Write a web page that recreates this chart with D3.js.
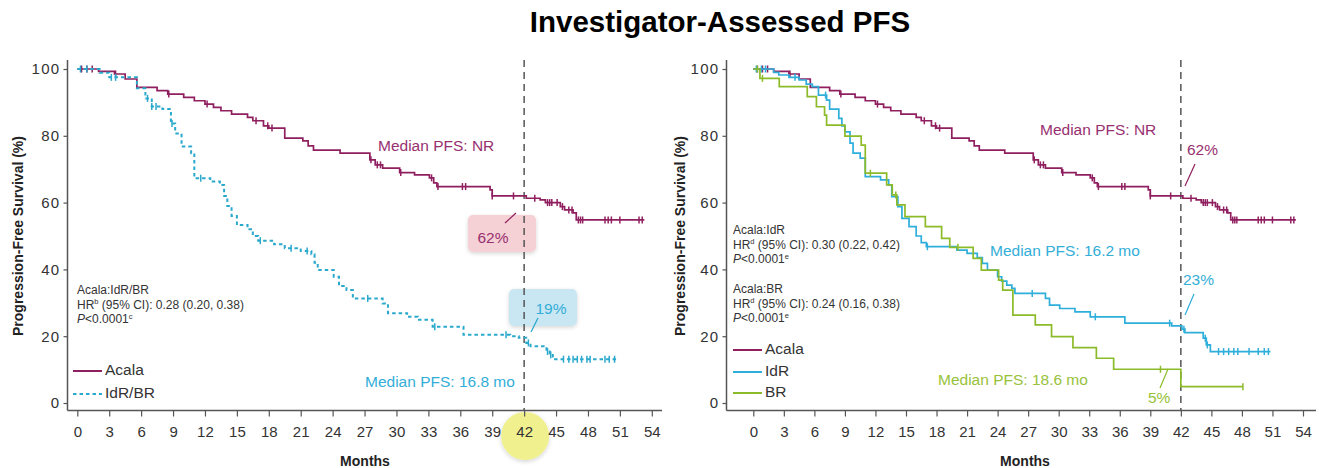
<!DOCTYPE html>
<html><head><meta charset="utf-8">
<script src="https://cdn.jsdelivr.net/npm/d3@7"></script>
<style>
html,body{margin:0;padding:0;background:#fff;}
svg{display:block;font-family:"Liberation Sans",Arial,Helvetica,sans-serif;}
</style></head>
<body><svg id="chart" width="1319" height="468"></svg>
<script>
// ---------------- DATA ----------------
const title = "Investigator-Assessed PFS";
const xTicks = [0,3,6,9,12,15,18,21,24,27,30,33,36,39,42,45,48,51,54];
const yTicks = [0,20,40,60,80,100];
const landmark = 42;

// Acala (both panels)
const acalaT = [0,2.0,3.5,4.5,5.6,7.5,8.5,10,11,12,12.8,13.5,14.5,16,16.5,17.5,18,19.5,21.2,21.7,22.2,24.7,27.5,28,28.7,30.3,31.7,33.1,33.5,33.8,38.8,39,42.2,43.5,44,45.4,45.8,46.6,46.9,53.3];
const acalaS = [100,99.3,98.5,97,94.5,93.5,92.5,91.5,90.5,89.5,88.5,87.5,86.5,85.5,84.5,83,82.3,79.3,78.5,77,75.7,74.8,72.8,71.3,70.3,69,68.3,67.4,65.9,64.8,63.8,62,61.3,60.8,60,58.8,57.8,56.9,54.8,54.8];
const acalaCens = [0.4,0.9,1.4,3.6,8.6,12.2,16.8,17.9,18.3,27.6,28.2,28.5,30.4,33.3,33.9,36.2,36.5,39.0,41.0,43.0,44.2,44.4,44.6,45.1,45.6,46.2,46.5,47.1,47.3,47.5,49.6,49.9,50.2,51.0,52.8,53.1];

// IdR/BR pooled (left panel)
const idrbrT = [0,2.1,3,5.6,6.4,7,8,8.8,9.2,9.8,10.7,11,12.5,13.4,13.8,14.1,14.5,15,16,16.5,17,18.5,19.5,21,22,22.3,22.6,24.1,24.6,25.3,25.9,28.7,29.2,31,32,33.4,36.3,40.7,41.5,42.2,42.6,44.1,44.4,44.7,50.7];
const idrbrS = [100,98.9,97.5,94.2,91.2,88.8,88,83.7,80.7,76.8,74.8,67.3,66.3,65.3,62,59,56,53.3,52,50,48.6,47.5,46.3,45.5,44.5,42,39.8,37.8,35,33.8,31.3,29.8,26.9,25.8,24.9,22.8,20.4,20,19.5,18,17,15.4,14.4,13.1,13.1];
const idrbrCens = [0.3,0.9,3.2,3.6,6.6,7.0,7.4,8.9,11.6,17.2,20.1,21.6,27.3,33.6,40.3,42.4,44.2,44.5,45.7,46.2,46.6,47.0,47.4,47.9,48.2,49.6,50.0,50.5];

// IdR (right panel)
const idrT = [0,2,2.5,3.5,4.5,5.2,5.8,6.4,7.2,7.5,8.4,8.7,9.0,9.5,9.8,10.5,11,12.5,13.3,13.6,14.2,14.6,15.3,16,16.5,17,20,21,22,22.5,23,24,24.4,24.9,25.4,25.7,28.7,29.1,30.1,31.6,33.1,36.5,41.1,42.1,42.4,44.2,44.5,44.9,50.8];
const idrS = [100,99,98.2,97.5,96.7,95.5,94.7,92.2,90.7,88,85.2,83,81.2,77.8,74.8,73.3,67.8,66.8,65.3,61.8,58.8,55.3,52.8,50,48,46.8,45.8,44.8,43.5,41.8,39.8,37.8,36.5,35.3,34.3,32.8,31.3,29.3,28.3,27.3,25.8,23.9,23.1,22.1,21.1,19.4,17.4,15.4,15.4];
const idrCens = [0.3,0.8,1.2,4.1,7.1,17.1,27.4,33.6,40.9,42.3,44.4,44.6,45.7,46.2,46.7,47.2,47.6,48.7,49.6,50.2,50.6];

// BR (right panel)
const brT = [0,0.65,2.55,5.3,6.2,7.0,7.2,9.0,10.6,11,13.1,13.65,14.1,14.9,16.9,18.5,19.3,21.6,22.4,24.1,24.5,25.5,27.7,29.3,31.4,33.7,35.4,42,48.1];
const brS = [100,97.2,94.7,91.7,88.7,86.2,83.2,79.9,77.2,68.8,65.3,62.3,59.3,55.8,52.8,49.3,46.6,43.3,39.8,36.8,33.8,26.3,23.4,19.9,16.6,13.4,10.1,4.9,4.9];
const brCens = [0.4,0.9,11.5,14.0,20.1,40.0,48.1];

// ---------------- STYLE ----------------
const C = {
  acala:"#8f1f5f", acalaText:"#973070",
  idrbr:"#2aa9cc", idr:"#2eaedb", idrText:"#33aed8",
  br:"#8cbb2a", brText:"#97c23a",
  axis:"#555", text:"#333"
};

const svg = d3.select("#chart");
const defs = svg.append("defs");
const f = defs.append("filter").attr("id","shadow").attr("x","-30%").attr("y","-30%").attr("width","160%").attr("height","160%");
f.append("feDropShadow").attr("dx",0).attr("dy",1.5).attr("stdDeviation",2).attr("flood-color","#000").attr("flood-opacity",0.18);

svg.append("text").attr("x",720).attr("y",32).attr("text-anchor","middle")
  .attr("font-size",29.5).attr("font-weight","bold").attr("fill","#000").text(title);

const y = d3.scaleLinear().domain([0,100]).range([403,69]);

function stepAt(T,S,t){ let v=S[0]; for(let i=0;i<T.length;i++){ if(T[i]<=t) v=S[i]; } return v; }

function panel(cfg){
  const x = d3.scaleLinear().domain([0,54]).range([cfg.x0,cfg.x1]);
  const g = svg.append("g");
  if(cfg.highlight){
    g.append("circle").attr("cx",x(landmark)+1).attr("cy",436).attr("r",24)
      .attr("fill","#f1f08e").attr("filter","url(#shadow)");
  }
  g.append("line").attr("x1",cfg.ax).attr("x2",cfg.ax).attr("y1",60).attr("y2",410.5)
    .attr("stroke",C.axis).attr("stroke-width",1.5);
  g.append("line").attr("x1",cfg.ax).attr("x2",cfg.axEnd).attr("y1",410.5).attr("y2",410.5)
    .attr("stroke",C.axis).attr("stroke-width",1.5);
  const xa = g.append("g").attr("transform","translate(0,410.5)")
    .call(d3.axisBottom(x).tickValues(xTicks).tickSize(6).tickPadding(10).tickFormat(d3.format("d")));
  xa.select(".domain").remove();
  xa.selectAll("line").attr("stroke",C.axis).attr("stroke-width",1.2);
  xa.selectAll("text").attr("font-size",15).attr("fill",C.text).attr("font-family","Liberation Sans, Arial, sans-serif");
  const ya = g.append("g").attr("transform",`translate(${cfg.ax},0)`)
    .call(d3.axisLeft(y).tickValues(yTicks).tickSize(4).tickPadding(3));
  ya.select(".domain").remove();
  ya.selectAll("line").attr("stroke",C.axis).attr("stroke-width",1.2);
  ya.selectAll("text").attr("font-size",15).attr("fill",C.text).attr("letter-spacing","1.3px").attr("font-family","Liberation Sans, Arial, sans-serif");
  g.append("text").attr("transform",`translate(${cfg.yTitleX},236) rotate(-90)`).attr("text-anchor","middle")
    .attr("font-size",14).attr("font-weight","bold").attr("fill","#222").text("Progression-Free Survival (%)");
  g.append("text").attr("x",cfg.monthsX).attr("y",466).attr("text-anchor","middle")
    .attr("font-size",14).attr("font-weight","bold").attr("fill","#222").text("Months");
  return {g,x};
}

function vline(p){
  p.g.append("line").attr("x1",p.x(landmark)).attr("x2",p.x(landmark)).attr("y1",60).attr("y2",410)
    .attr("stroke","#555").attr("stroke-width",1.5).attr("stroke-dasharray","7,5");
}

function curve(p,T,S,cens,color,dash,width){
  const pts = T.map((t,i)=>[t,S[i]]);
  const line = d3.line().x(d=>p.x(d[0])).y(d=>y(d[1])).curve(d3.curveStepAfter);
  p.g.append("path").attr("d",line(pts)).attr("fill","none").attr("stroke",color)
    .attr("stroke-width",width||1.7).attr("stroke-dasharray",dash||null);
  p.g.append("g").selectAll("line").data(cens).join("line")
    .attr("x1",d=>p.x(d)).attr("x2",d=>p.x(d))
    .attr("y1",d=>y(stepAt(T,S,d))-3.5).attr("y2",d=>y(stepAt(T,S,d))+3.5)
    .attr("stroke",color).attr("stroke-width",1.5);
}

function txt(g,x,yy,s,color,size,anchor){
  return g.append("text").attr("x",x).attr("y",yy).attr("fill",color).attr("font-size",size)
    .attr("text-anchor",anchor||"start").attr("dominant-baseline","middle").text(s);
}
function statBlock(g,x,yy,label,sup,hr){
  const fs=12;
  g.append("text").attr("x",x).attr("y",yy).attr("font-size",fs).attr("fill",C.text).text(label);
  const t2 = g.append("text").attr("x",x).attr("y",yy+14.5).attr("font-size",fs).attr("fill",C.text);
  t2.append("tspan").text("HR");
  t2.append("tspan").attr("font-size",7.5).attr("dy",-4.5).text(sup);
  t2.append("tspan").attr("dy",4.5).text(" (95% CI): "+hr);
  const t3 = g.append("text").attr("x",x).attr("y",yy+29).attr("font-size",fs).attr("fill",C.text);
  t3.append("tspan").attr("font-style","italic").text("P");
  t3.append("tspan").text("<0.0001");
  t3.append("tspan").attr("font-size",7.5).attr("dy",-4.5).text(sup==="b"?"c":"e");
}
function legend(g,x,yy,label,color,dash){
  g.append("line").attr("x1",x).attr("x2",x+29).attr("y1",yy).attr("y2",yy)
    .attr("stroke",color).attr("stroke-width",2).attr("stroke-dasharray",dash||null);
  g.append("text").attr("x",x+32).attr("y",yy).attr("dominant-baseline","middle")
    .attr("font-size",15.5).attr("fill",C.text).text(label);
}
function callout(g,x1,y1,x2,y2,color){
  g.append("line").attr("x1",x1).attr("y1",y1).attr("x2",x2).attr("y2",y2).attr("stroke",color).attr("stroke-width",1.2);
}

// ---------------- LEFT PANEL ----------------
const L = panel({x0:77.3,x1:651.8,ax:67.5,axEnd:662,yTitleX:23,monthsX:365,highlight:true});
L.g.append("rect").attr("x",468).attr("y",215).attr("width",68).attr("height",37).attr("rx",5)
  .attr("fill","#f4cdd1").attr("opacity",0.9).attr("filter","url(#shadow)");
L.g.append("rect").attr("x",509).attr("y",289).attr("width",68).attr("height",37).attr("rx",5)
  .attr("fill","#c3e5f2").attr("opacity",0.9).attr("filter","url(#shadow)");
vline(L);
curve(L,acalaT,acalaS,acalaCens,C.acala,null,1.7);
curve(L,idrbrT,idrbrS,idrbrCens,C.idrbr,"3.5,3",2);
txt(L.g,378,147,"Median PFS: NR",C.acalaText,15.5);
txt(L.g,365,383,"Median PFS: 16.8 mo",C.idrText,15.5);
txt(L.g,493,239,"62%",C.acalaText,15.5,"middle");
txt(L.g,551,310,"19%",C.idrText,15.5,"middle");
callout(L.g,505,223,516,213,C.acala);
callout(L.g,531,332,538,318,C.idrbr);
statBlock(L.g,77,294,"Acala:IdR/BR","b","0.28 (0.20, 0.38)");
legend(L.g,73,371,"Acala",C.acala);
legend(L.g,73,394,"IdR/BR",C.idrbr,"3.5,3");

// ---------------- RIGHT PANEL ----------------
const R = panel({x0:753.3,x1:1303,ax:726.5,axEnd:1316,yTitleX:685,monthsX:1025});
vline(R);
curve(R,acalaT,acalaS,acalaCens,C.acala,null,1.7);
curve(R,idrT,idrS,idrCens,C.idr,null,1.7);
curve(R,brT,brS,brCens,C.br,null,1.7);
txt(R.g,1040,131,"Median PFS: NR",C.acalaText,15.5);
txt(R.g,990,252,"Median PFS: 16.2 mo",C.idrText,15.5);
txt(R.g,938,381,"Median PFS: 18.6 mo",C.brText,15.5);
txt(R.g,1187,151,"62%",C.acalaText,15.5);
txt(R.g,1183,281,"23%",C.idrText,15.5);
txt(R.g,1148,399,"5%",C.brText,15.5);
callout(R.g,1185,186,1195,164,C.acala);
callout(R.g,1185,315,1194,294,C.idr);
callout(R.g,1160,388,1168,369,C.br);
statBlock(R.g,733,234,"Acala:IdR","d","0.30 (0.22, 0.42)");
statBlock(R.g,733,293,"Acala:BR","d","0.24 (0.16, 0.38)");
legend(R.g,733,350,"Acala",C.acala);
legend(R.g,733,372,"IdR",C.idr);
legend(R.g,733,393,"BR",C.br);
</script></body></html>
